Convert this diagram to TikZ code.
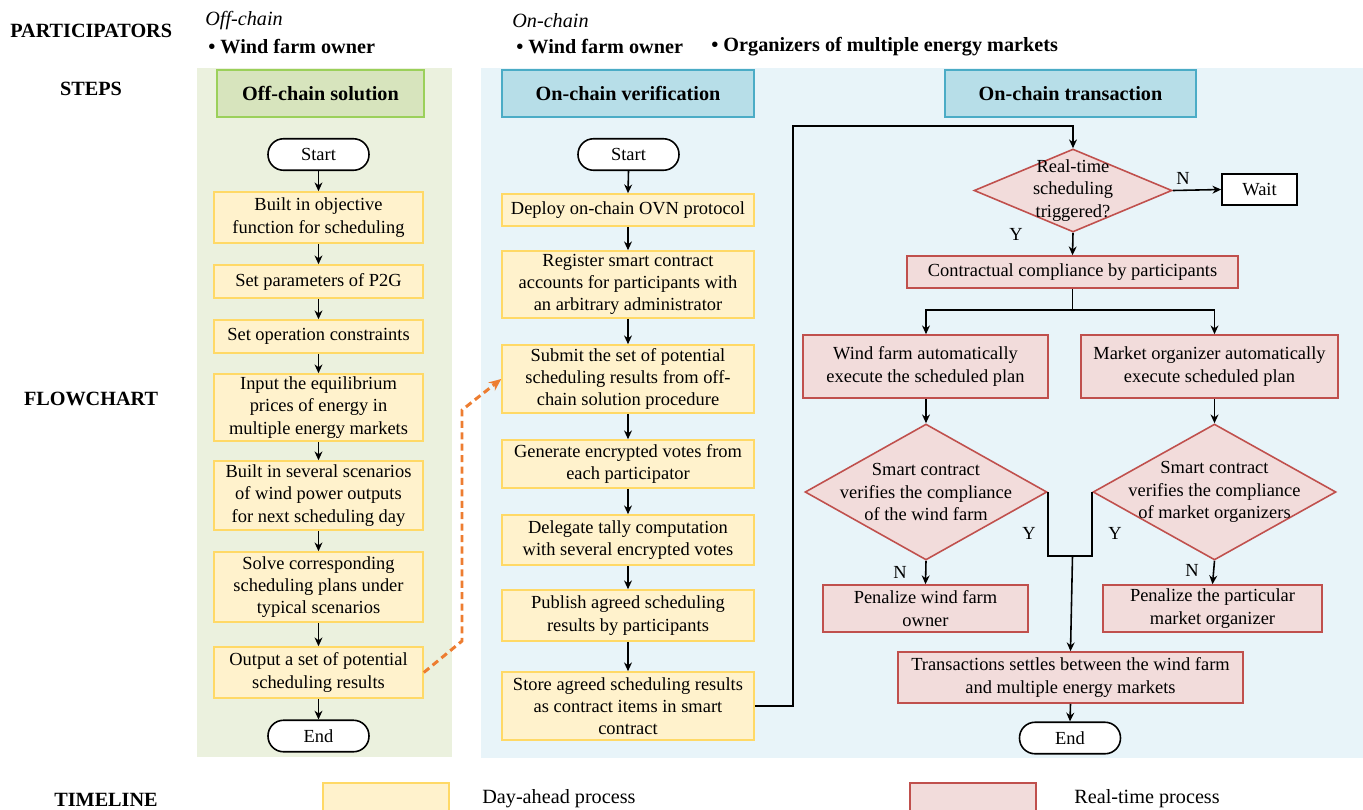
\documentclass[tikz,border=0pt]{standalone}
\usepackage{fontspec}
\setmainfont{Liberation Serif}
\usetikzlibrary{positioning,calc,shapes.geometric,arrows.meta}

\definecolor{dayfill}{HTML}{FFF2CC}
\definecolor{dayline}{HTML}{FFD966}
\definecolor{rtfill}{HTML}{F2DCDB}
\definecolor{rtline}{HTML}{C0504D}
\definecolor{offbg}{HTML}{EBF1DE}
\definecolor{offhead}{HTML}{D7E4BD}
\definecolor{offline}{HTML}{9BD05A}
\definecolor{onbg}{HTML}{E8F4F9}
\definecolor{onhead}{HTML}{B7DEE8}
\definecolor{online}{HTML}{4BACC6}
\definecolor{linkorange}{HTML}{ED7D31}

\tikzset{
  headtxt/.style={font=\fontsize{11.5}{13}\selectfont\bfseries, inner sep=0pt},
  steptitle/.style={font=\fontsize{11.5}{13}\selectfont\bfseries, line width=0.8pt, minimum height=0.94cm},
  termnode/.style={draw=black, fill=white, line width=0.9pt, rounded corners=0.31cm, minimum width=2.02cm, minimum height=0.63cm, inner sep=0pt},
  daybox/.style={draw=dayline, fill=dayfill, line width=0.9pt, align=center, inner sep=1pt},
  rtbox/.style={draw=rtline, fill=rtfill, line width=0.9pt, align=center, inner sep=1pt},
  rtdiamond/.style={diamond, draw=rtline, fill=rtfill, line width=0.9pt, inner sep=0pt},
  flow/.style={-{Stealth[length=5pt,width=4.5pt]}, line width=0.9pt},
  yn/.style={inner sep=0pt}
}

\begin{document}
\begin{tikzpicture}[x=0.02cm, y=-0.02cm, font=\fontsize{10.5}{12.7}\selectfont]
  \useasboundingbox (0,0) rectangle (1363,809);
  \clip (0,0) rectangle (1363,809);

  % background areas
  \fill[offbg] (197,68) rectangle (452,757);
  \fill[onbg] (481,68) rectangle (1363,758);

  % row titles
  \node[headtxt, anchor=west] (partic) at (10,31) {PARTICIPATORS};
  \node[headtxt] (steps) at (91,89) {STEPS};
  \node[headtxt] (flowch) at (91,399) {FLOWCHART};
  \node[headtxt] (timel) at (106,800) {TIMELINE};

  % participators
  \node[inner sep=0pt, anchor=west, font=\fontsize{11.5}{13}\selectfont\itshape] (offlab) at (205,21) {Off-chain};
  \node[headtxt, anchor=west] (offwf) at (208,47) {\textbullet\ Wind farm owner};
  \node[inner sep=0pt, anchor=west, font=\fontsize{11.5}{13}\selectfont\itshape] (onlab) at (512,21) {On-chain};
  \node[headtxt, anchor=west] (onwf) at (516,47) {\textbullet\ Wind farm owner};
  \node[headtxt, anchor=west] (onorg) at (711,47) {\textbullet\ Organizers of multiple energy markets};

  % step titles
  \node[steptitle, draw=offline, fill=offhead, minimum width=4.14cm] (offsol) at (320.5,93.5) {Off-chain solution};
  \node[steptitle, draw=online, fill=onhead, minimum width=5.04cm] (onver) at (628,93.5) {On-chain verification};
  \node[steptitle, draw=online, fill=onhead, minimum width=5.02cm] (ontra) at (1070.5,93.5) {On-chain transaction};

  % off-chain solution
  \node[termnode] (startL) at (318.5,154.5) {Start};
  \node[daybox, minimum width=4.18cm, minimum height=1.02cm] (obj) at (318.5,217.5) {Built in objective\\function for scheduling};
  \node[daybox, minimum width=4.18cm, minimum height=0.66cm] (ptg) at (318.5,281.5) {Set parameters of P2G};
  \node[daybox, minimum width=4.18cm, minimum height=0.66cm] (cons) at (318.5,336.5) {Set operation constraints};
  \node[daybox, minimum width=4.18cm, minimum height=1.34cm] (prices) at (318.5,407.5) {Input the equilibrium\\prices of energy in\\multiple energy markets};
  \node[daybox, minimum width=4.18cm, minimum height=1.38cm] (scen) at (318.5,495.5) {Built in several scenarios\\of wind power outputs\\for next scheduling day};
  \node[daybox, minimum width=4.18cm, minimum height=1.40cm] (solve) at (318.5,587) {Solve corresponding\\scheduling plans under\\typical scenarios};
  \node[daybox, minimum width=4.18cm, minimum height=1.02cm] (outp) at (318.5,672.5) {Output a set of potential\\scheduling results};
  \node[termnode] (endL) at (318.5,736) {End};

  \foreach \a/\b in {startL/obj, obj/ptg, ptg/cons, cons/prices, prices/scen, scen/solve, solve/outp, outp/endL}
    \draw[flow] (\a.south) -- (\b.north);

  % on-chain verification
  \node[termnode] (startM) at (628.5,154.5) {Start};
  \node[daybox, minimum width=5.04cm, minimum height=0.64cm] (deploy) at (628,210) {Deploy on-chain OVN protocol};
  \node[daybox, minimum width=5.04cm, minimum height=1.34cm] (regist) at (628,284.5) {Register smart contract\\accounts for participants with\\an arbitrary administrator};
  \node[daybox, minimum width=5.04cm, minimum height=1.36cm] (submit) at (628,379) {Submit the set of potential\\scheduling results from off-\\chain solution procedure};
  \node[daybox, minimum width=5.04cm, minimum height=0.96cm] (votes) at (628,464) {Generate encrypted votes from\\each participator};
  \node[daybox, minimum width=5.04cm, minimum height=1.00cm] (tally) at (628,540) {Delegate tally computation\\with several encrypted votes};
  \node[daybox, minimum width=5.04cm, minimum height=1.02cm] (publish) at (628,615.5) {Publish agreed scheduling\\results by participants};
  \node[daybox, minimum width=5.04cm, minimum height=1.36cm] (store) at (628,706) {Store agreed scheduling results\\as contract items in smart\\contract};

  \foreach \a/\b in {startM/deploy, deploy/regist, regist/submit, submit/votes, votes/tally, tally/publish, publish/store}
    \draw[flow] (\a.south) -- (\b.north);

  % off-chain results handed over
  \coordinate (hand1) at (462,641);
  \coordinate (hand2) at (462,410);
  \draw[-{Stealth[length=7pt,width=6pt]}, line width=1.7pt, dash pattern=on 4pt off 2.5pt, linkorange] (outp.east) -- (hand1) -- (hand2) -- (submit.west);

  % on-chain transaction
  \node[rtdiamond, minimum width=3.96cm, minimum height=1.66cm] (trig) at (1073,190.5) {};
  \node[align=center, inner sep=0pt] (trigtxt) at (trig.center) {Real-time\\scheduling\\triggered?};
  \node[draw=black, fill=white, line width=0.9pt, minimum width=1.5cm, minimum height=0.62cm] (wait) at (1259.5,189.5) {Wait};
  \node[rtbox, minimum width=6.62cm, minimum height=0.64cm] (comply) at (1072.5,272) {Contractual compliance by participants};
  \node[rtbox, minimum width=4.9cm, minimum height=1.26cm] (wfexec) at (925.5,366.5) {Wind farm automatically\\execute the scheduled plan};
  \node[rtbox, minimum width=5.14cm, minimum height=1.26cm] (moexec) at (1209.5,366.5) {Market organizer automatically\\execute scheduled plan};
  \node[rtdiamond, minimum width=4.84cm, minimum height=2.72cm] (wfver) at (926,492) {};
  \node[align=center, inner sep=0pt] (wfvertxt) at (wfver.center) {Smart contract\\verifies the compliance\\of the wind farm};
  \node[rtdiamond, minimum width=4.86cm, minimum height=2.72cm] (mover) at (1214.5,492) {};
  \node[align=center, inner sep=0pt] (movertxt) at (mover.center) {Smart contract\\verifies the compliance\\of market organizers};
  \node[rtbox, minimum width=4.1cm, minimum height=0.94cm] (wfpen) at (925.5,608.5) {Penalize wind farm\\owner};
  \node[rtbox, minimum width=4.38cm, minimum height=0.94cm] (mopen) at (1212.5,608.5) {Penalize the particular\\market organizer};
  \node[rtbox, minimum width=6.9cm, minimum height=1.02cm] (settle) at (1070.5,677.5) {Transactions settles between the wind farm\\and multiple energy markets};
  \node[termnode] (endR) at (1070,738) {End};

  \coordinate (loopc) at (793,126);
  \draw[flow] (store.east) -| (loopc) -| (trig.north);
  \draw[flow] (trig.east) -- (wait.west);
  \draw[flow] (trig.south) -- (comply.north);
  \coordinate (split) at (1072.5,310);
  \draw[line width=0.9pt] (comply.south) -- (split);
  \draw[flow] (split) -| (wfver.north |- wfexec.north);
  \draw[flow] (split) -| (mover.north |- moexec.north);
  \draw[flow] (wfver.north |- wfexec.south) -- (wfver.north);
  \draw[flow] (mover.north |- moexec.south) -- (mover.north);
  \coordinate (merge) at (1072.5,556);
  \draw[line width=0.9pt] (wfver.east) |- (merge);
  \draw[line width=0.9pt] (mover.west) |- (merge);
  \draw[flow] (merge) -- (settle.north);
  \draw[flow] (wfver.south) -- (wfpen.north);
  \draw[flow] (mover.south) -- (mopen.north);
  \draw[flow] (settle.south) -- (endR.north);

  % decision labels
  \node[yn] (trign) at (1183,178) {N};
  \node[yn] (trigy) at (1016,234) {Y};
  \node[yn] (wfy) at (1029,533) {Y};
  \node[yn] (moy) at (1115,533) {Y};
  \node[yn] (wfn) at (900,572) {N};
  \node[yn] (mon) at (1192,570) {N};

  % timeline legend
  \node[daybox, minimum width=2.52cm, minimum height=1cm] (legday) at (386,808) {};
  \node[inner sep=0pt, anchor=west, font=\fontsize{11.5}{13}\selectfont] (legdaytxt) at (482,799) {Day-ahead process};
  \node[rtbox, minimum width=2.52cm, minimum height=1cm] (legrt) at (973,808) {};
  \node[inner sep=0pt, anchor=west, font=\fontsize{11.5}{13}\selectfont] (legrttxt) at (1074,799) {Real-time process};
\end{tikzpicture}
\end{document}
